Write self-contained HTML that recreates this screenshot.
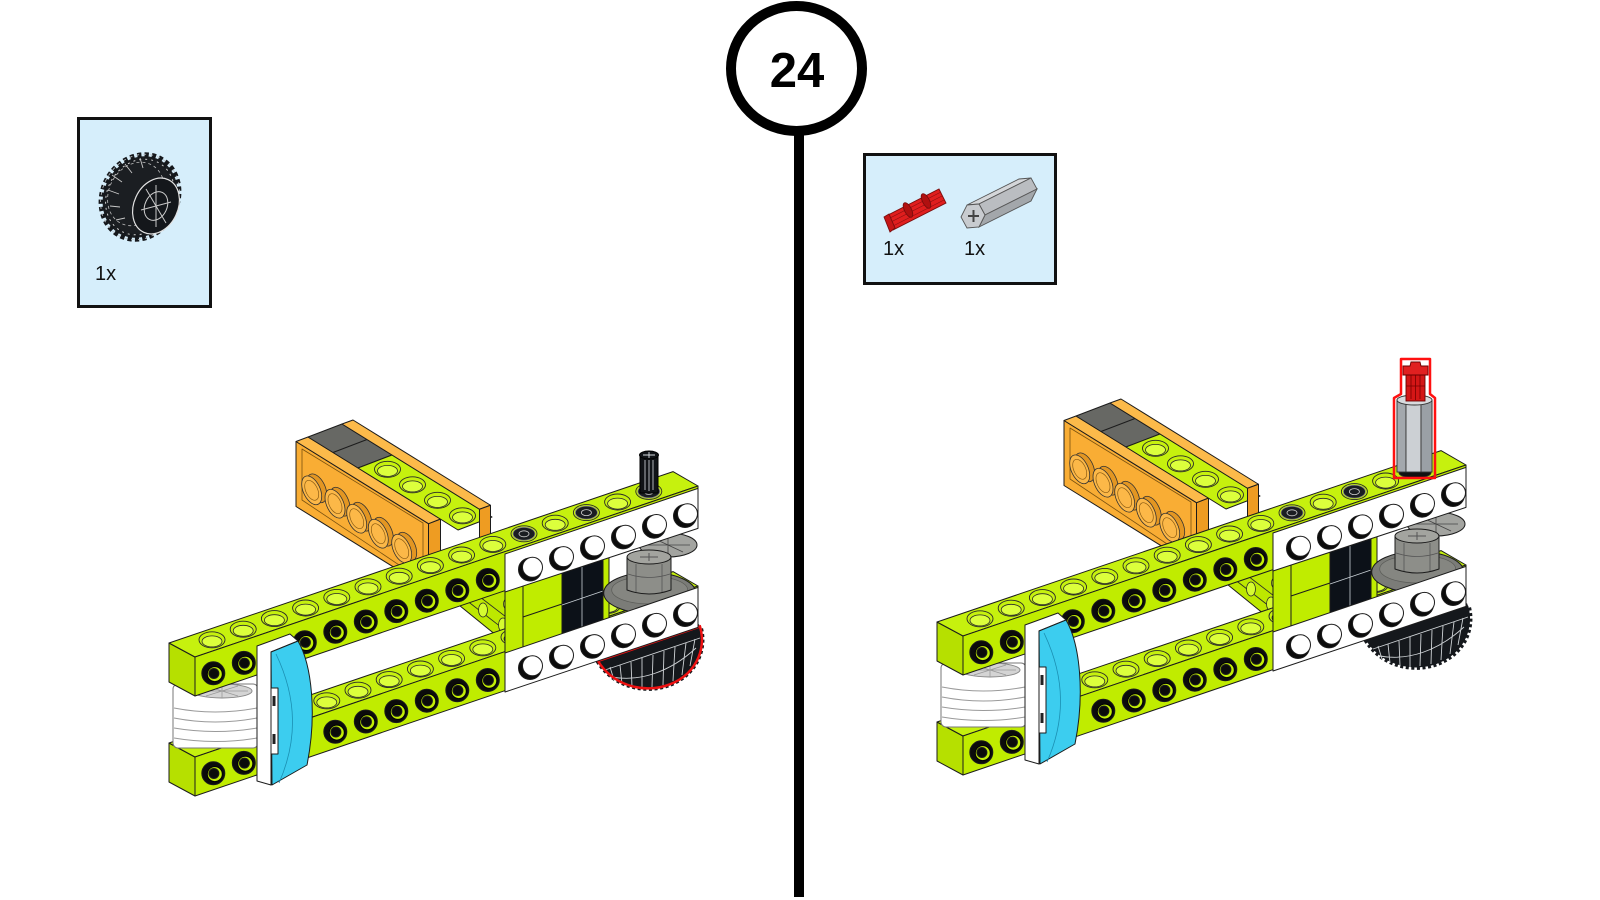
<!DOCTYPE html>
<html>
<head>
<meta charset="utf-8">
<style>
  html,body{margin:0;padding:0;background:#fff;}
  svg{display:block;}
  text{font-family:"Liberation Sans", Arial, sans-serif;}
</style>
</head>
<body>
<svg xmlns="http://www.w3.org/2000/svg" width="1600" height="900" viewBox="0 0 1600 900">
<rect width="1600" height="900" fill="#fff"/>
<defs>
  <g id="fh">
    <circle r="11.5" fill="#0b0b0b"/>
    <circle cx="1.5" cy="0.8" r="7.5" fill="#c2ee06" stroke="#000" stroke-width="1"/>
    <circle cx="0.6" cy="0.2" r="5" fill="#0b0b0b"/>
  </g>
  <g id="wh">
    <circle r="11.5" fill="#0b0b0b"/>
    <circle cx="2.5" cy="-2.2" r="10" fill="#fff"/>
  </g>
  <g id="rg">
    <ellipse rx="13" ry="8" fill="#c6f10e" stroke="#2a2a2a" stroke-width="0.9"/>
    <ellipse cy="1.6" rx="10" ry="5.5" fill="#dcff3c" stroke="#2a2a2a" stroke-width="0.8"/>
  </g>
  <g id="rgd">
    <ellipse rx="13" ry="8" fill="#c6f10e" stroke="#2a2a2a" stroke-width="0.9"/>
    <ellipse rx="11" ry="6.5" fill="#1a1d22" stroke="#888" stroke-width="0.8"/>
    <ellipse rx="5" ry="3" fill="none" stroke="#ccc" stroke-width="0.8"/>
  </g>
  <g id="stud">
    <circle r="1" transform="matrix(10,6.2,0,13,0,0)" fill="#e39622" stroke="#333" stroke-width="0.8" vector-effect="non-scaling-stroke"/>
    <circle r="1" transform="matrix(10,6.2,0,13,-5,2)" fill="#fcb848" stroke="#333" stroke-width="0.8" vector-effect="non-scaling-stroke"/>
    <circle r="1" transform="matrix(7,4.3,0,9,-5,2)" fill="none" stroke="#8a5a12" stroke-width="0.7" vector-effect="non-scaling-stroke"/>
  </g>

  <g id="gear">
    <path d="M598,661 L700,626.5 C707,650 695,677 665,686 C640,693 612,684 598,661 Z" fill="#15181c" stroke="#15181c" stroke-width="5" stroke-dasharray="3 2.5"/>
    <path d="M598,661 L700,626.5 C707,650 695,677 665,686 C640,693 612,684 598,661 Z" fill="#15181c"/>
    <path d="M610,667 L614,680 M620,665 L622,684 M631,662 L632,687 M642,658 L642,688 M653,655 L652,687 M664,651 L663,685 M675,647 L673,681 M686,643 L682,675 M695,639 L690,666 M605,670 L700,638 M612,677 C640,682 670,672 696,648" fill="none" stroke="#cfd3d6" stroke-width="0.9"/>
  </g>

  <g id="asm" stroke="#1c1c1c" stroke-width="1" stroke-linejoin="round">
    <!-- orange composite -->
    <polygon points="296,441.5 428.5,523.7 428.5,588.7 296,506.5" fill="#f9ad34"/>
    <polygon points="302,449 423,523 423,581 302,500" fill="none" stroke="#7a5210" stroke-width="0.8"/>
    <use href="#stud" x="316.7" y="488.3"/>
    <use href="#stud" x="340" y="501.7"/>
    <use href="#stud" x="361.7" y="516.7"/>
    <use href="#stud" x="383.3" y="531.7"/>
    <use href="#stud" x="406.7" y="546.7"/>
    <polygon points="428.5,523.7 440.5,519 440.5,584 428.5,588.7" fill="#ee9c22"/>
    <polygon points="296,441.5 308,437 440.5,519 428.5,523.7" fill="#fcba4a"/>
    <polygon points="308,437 342,424 392,455 358,468" fill="#676864"/>
    <line x1="333" y1="452.5" x2="367" y2="439.5"/>
    <polygon points="358,468 392,455 492,517 458,530" fill="#c6f10e"/>
    <use href="#rg" x="387.5" y="469.3"/>
    <use href="#rg" x="412.5" y="484.8"/>
    <use href="#rg" x="437.5" y="500.3"/>
    <use href="#rg" x="462.5" y="515.8"/>
    <polygon points="342,424 353,420 490.5,505.25 479.5,509.25" fill="#fcba4a"/>
    <polygon points="479.5,509.25 490.5,505.25 490.5,548 479.5,552" fill="#ee9c22"/>

    <!-- lime perpendicular beam between long beams -->
    <polygon points="449,597 523,583 523,657" fill="#bde800"/>
    <path d="M466,600 L523,644 M480,597 L523,630" fill="none" stroke="#2a2a2a" stroke-width="0.8"/>
    <ellipse cx="483" cy="610" rx="4.5" ry="7" fill="#d6fb30" stroke="#2a2a2a" stroke-width="0.8"/>
    <ellipse cx="503" cy="625" rx="4.5" ry="7" fill="#d6fb30" stroke="#2a2a2a" stroke-width="0.8"/>
    <ellipse cx="508" cy="604" rx="4.5" ry="6" fill="#d6fb30" stroke="#2a2a2a" stroke-width="0.8"/>

    <!-- lower long lime beam -->
    <polygon points="169,743 195,757 195,796 169,782" fill="#b6e000"/>
    <polygon points="169,743 195,757 698,586 673,571.6" fill="#c6f10e"/>
    <polygon points="195,757 698,586 698,625 195,796" fill="#c0ec00"/>
    <use href="#rg" x="295.6" y="711.4"/>
    <use href="#rg" x="326.8" y="700.8"/>
    <use href="#rg" x="358" y="690.2"/>
    <use href="#rg" x="389.2" y="679.6"/>
    <use href="#rg" x="420.4" y="669"/>
    <use href="#rg" x="451.6" y="658.4"/>
    <use href="#rg" x="482.8" y="647.8"/>
    <use href="#rg" x="514" y="637.2"/>
    <use href="#rg" x="576.4" y="616"/>
    <use href="#rg" x="607.6" y="605.4"/>
    <use href="#fh" x="213.3" y="773.3"/>
    <use href="#fh" x="243.8" y="762.9"/>
    <use href="#fh" x="335.3" y="731.8"/>
    <use href="#fh" x="365.8" y="721.5"/>
    <use href="#fh" x="396.3" y="711.1"/>
    <use href="#fh" x="426.8" y="700.7"/>
    <use href="#fh" x="457.3" y="690.3"/>
    <use href="#fh" x="487.8" y="680"/>

    <!-- white wheel at left -->
    <rect x="173" y="684" width="85" height="64" rx="5" fill="#fff" stroke="#777"/>
    <ellipse cx="222" cy="691" rx="30" ry="7" fill="#d4d4d4" stroke="#888"/>
    <path d="M196,691 L248,691 M222,684 L222,698 M206,686 L238,696 M206,696 L238,686" fill="none" stroke="#9a9a9a" stroke-width="0.8"/>
    <path d="M174,708 Q215,716 257,708 M174,718 Q215,726 257,718 M174,728 Q215,735 257,728 M174,738 Q215,745 257,738" fill="none" stroke="#9a9a9a" stroke-width="1"/>

    <!-- upper long lime beam -->
    <polygon points="169,643 195,657 195,696 169,682" fill="#b6e000"/>
    <polygon points="169,643 195,657 698,486 673,471.6" fill="#c6f10e"/>
    <polygon points="195,657 698,486 698,525 195,696" fill="#c0ec00"/>
    <use href="#rg" x="212" y="639.8"/>
    <use href="#rg" x="243.2" y="629.2"/>
    <use href="#rg" x="274.4" y="618.6"/>
    <use href="#rg" x="305.6" y="608"/>
    <use href="#rg" x="336.8" y="597.4"/>
    <use href="#rg" x="368" y="586.8"/>
    <use href="#rg" x="399.2" y="576.2"/>
    <use href="#rg" x="430.4" y="565.6"/>
    <use href="#rg" x="461.6" y="555"/>
    <use href="#rg" x="492.8" y="544.4"/>
    <use href="#rgd" x="524" y="533.8"/>
    <use href="#rg" x="555.2" y="523.2"/>
    <use href="#rgd" x="586.4" y="512.6"/>
    <use href="#rg" x="617.6" y="502"/>
    <use href="#rgd" x="648.8" y="491.4"/>
    <use href="#fh" x="213.3" y="673.3"/>
    <use href="#fh" x="243.8" y="662.9"/>
    <use href="#fh" x="274.3" y="652.6"/>
    <use href="#fh" x="304.8" y="642.2"/>
    <use href="#fh" x="335.3" y="631.8"/>
    <use href="#fh" x="365.8" y="621.5"/>
    <use href="#fh" x="396.3" y="611.1"/>
    <use href="#fh" x="426.8" y="600.7"/>
    <use href="#fh" x="457.3" y="590.3"/>
    <use href="#fh" x="487.8" y="580"/>

    <!-- between white beams -->
    <polygon points="505,588 603,555 603,624 505,656" fill="#c0ec00"/>
    <line x1="523" y1="586" x2="523" y2="647"/>
    <line x1="523" y1="617" x2="562" y2="604"/>
    <polygon points="562,572 603,558 603,625 562,639" fill="#0c1118"/>
    <path d="M582,566 L582,632 M562,605 L603,591" fill="none" stroke="#c9d0d6" stroke-width="0.8"/>
    <polygon points="603,558 609,556 609,622 603,624" fill="#c0ec00"/>
    <ellipse cx="668" cy="545" rx="29" ry="12" fill="#a3a4a0"/>
    <path d="M646,545 L690,545 M668,534 L668,556 M653,538 L683,552" fill="none" stroke="#444" stroke-width="0.8"/>
    <ellipse cx="649.7" cy="593" rx="46" ry="20.5" fill="#7b7c78"/>
    <ellipse cx="649.7" cy="590" rx="38" ry="14" fill="#858681" stroke="#5a5b57" stroke-width="0.7"/>
    <path d="M627,557 L627,590 Q649,598 671,590 L671,557 Z" fill="#8d8e89"/>
    <ellipse cx="649" cy="557" rx="22" ry="7" fill="#a3a49f"/>
    <path d="M636,564 L636,592 M662,564 L662,592 M628,574 Q649,581 670,574" fill="none" stroke="#555" stroke-width="0.8"/>
    <path d="M640,557 L658,557 M649,553 L649,561" fill="none" stroke="#555" stroke-width="1"/>

    <!-- upper white beam -->
    <polygon points="505,554 698,488.4 698,528.4 505,592" fill="#fff"/>
    <use href="#wh" x="530" y="569.5"/>
    <use href="#wh" x="561" y="558.8"/>
    <use href="#wh" x="592" y="548.1"/>
    <use href="#wh" x="623" y="537.4"/>
    <use href="#wh" x="654" y="526.7"/>
    <use href="#wh" x="685" y="516"/>

    <!-- lower white beam -->
    <polygon points="505,653 698,587.4 698,627.4 505,692" fill="#fff"/>
    <use href="#wh" x="530" y="668"/>
    <use href="#wh" x="561" y="657.4"/>
    <use href="#wh" x="592" y="646.8"/>
    <use href="#wh" x="623" y="636.2"/>
    <use href="#wh" x="654" y="625.6"/>
    <use href="#wh" x="685" y="615"/>

    <!-- blue curved panel with white back -->
    <path d="M257,646 L290,634 L298,641 L271,652 L271,785 L257,781 Z" fill="#fff"/>
    <path d="M271,652 L298,641 C312,665 317,715 307,765 L272,785 Z" fill="#3ccdef"/>
    <path d="M276,654 C298,700 297,742 279,783" fill="none" stroke="#1b8fb2" stroke-width="0.8"/>
    <rect x="271" y="688" width="7" height="66" fill="#fff"/>
    <rect x="272.5" y="696" width="3" height="10" fill="#222" stroke="none"/>
    <rect x="272.5" y="734" width="3" height="10" fill="#222" stroke="none"/>
  </g>
</defs>

<use href="#gear"/>
<path d="M598,661 L700,626.5 C707,650 695,677 665,686 C640,693 612,684 598,661 Z" fill="none" stroke="#ee1111" stroke-width="2.5"/>
<use href="#gear" transform="translate(768,-21)"/>

<use href="#asm"/>
<use href="#asm" transform="translate(768,-21)"/>

<!-- left: black axle -->
<g stroke="#000" stroke-width="1">
  <rect x="640" y="455" width="18" height="38" fill="#101317"/>
  <path d="M645,460 L645,490 M649,460 L649,491 M653,460 L653,490" stroke="#d8dde2" stroke-width="0.8"/>
  <ellipse cx="649" cy="455" rx="9.5" ry="4" fill="#101317"/>
  <path d="M643,455 L655,455 M649,452 L649,458" stroke="#d8dde2" stroke-width="0.9"/>
</g>

<!-- right: gray hex connector + red axle -->
<g stroke="#333" stroke-width="0.9">
  <ellipse cx="1415" cy="473" rx="16" ry="5" fill="#111"/>
  <rect x="1397" y="400" width="35" height="72" fill="#b8bcc1"/>
  <rect x="1397" y="400" width="9" height="72" fill="#a3a8ad"/>
  <rect x="1406" y="400" width="15" height="72" fill="#ccd0d4"/>
  <rect x="1421" y="400" width="11" height="72" fill="#9aa0a6"/>
  <ellipse cx="1414.5" cy="400" rx="17.5" ry="5" fill="#d8dbde"/>
  <rect x="1406" y="372" width="19" height="29" fill="#d41616" stroke="#6a0000"/>
  <path d="M1411,374 L1411,399 M1415.5,373 L1415.5,400 M1420,374 L1420,399 M1406,386 L1425,386" stroke="#7a0000" stroke-width="0.8" fill="none"/>
  <path d="M1403,366 L1410,366 L1411,362 L1420,362 L1421,366 L1428,366 L1428,375 L1403,375 Z" fill="#e02020" stroke="#6a0000"/>
</g>
<path d="M1401,359 L1430,359 L1430,394 L1435,398 L1435,478 L1394,478 L1394,398 L1401,394 Z" fill="none" stroke="#ff1010" stroke-width="2.5" stroke-linejoin="round"/>

<!-- left parts box -->
<rect x="78.5" y="118.5" width="132" height="188" fill="#d6eefb" stroke="#111" stroke-width="3"/>
<g>
  <ellipse cx="140" cy="197" rx="36" ry="42" transform="rotate(28 140 197)" fill="#1b1e22" stroke="#15181c" stroke-width="8" stroke-dasharray="4 3"/>
  <ellipse cx="140" cy="197" rx="38" ry="44" transform="rotate(28 140 197)" fill="none" stroke="#bfc3c7" stroke-width="0.8" stroke-dasharray="3 4"/>
  <ellipse cx="140" cy="197" rx="33" ry="39" transform="rotate(28 140 197)" fill="none" stroke="#cfcfcf" stroke-width="1" stroke-dasharray="2 4"/>
  <ellipse cx="136" cy="194" rx="27" ry="33" transform="rotate(28 136 194)" fill="none" stroke="#bdbdbd" stroke-width="0.8" stroke-dasharray="3 3"/>
  <path d="M112,175 L122,182 M108,190 L119,194 M110,206 L120,207 M116,220 L125,218 M125,164 L132,173 M140,158 L143,168" fill="none" stroke="#c9c9c9" stroke-width="0.9"/>
  <ellipse cx="156" cy="206" rx="22" ry="29" transform="rotate(25 156 206)" fill="#14171b" stroke="#e2e2e2" stroke-width="1.2"/>
  <ellipse cx="156" cy="206" rx="11" ry="15" transform="rotate(25 156 206)" fill="#14171b" stroke="#d0d0d0" stroke-width="1"/>
  <path d="M146,189 L166,223 M141,210 L171,202 M156,185 L156,227" fill="none" stroke="#c8c8c8" stroke-width="1"/>
</g>
<text x="95" y="280" font-size="20" fill="#111">1x</text>

<!-- right parts box -->
<rect x="864.5" y="154.5" width="191" height="129" fill="#d6eefb" stroke="#111" stroke-width="3"/>
<g stroke="#7a0d0d" stroke-width="0.9">
  <polygon points="886,216 939,189 946,203 893,230" fill="#e01e1e"/>
  <path d="M889,223 L942,196 M888,219 L941,192 M891,227 L944,200" fill="none" stroke="#8b1111" stroke-width="0.7"/>
  <ellipse cx="908" cy="210" rx="3.5" ry="8" transform="rotate(-27 908 210)" fill="#b01010"/>
  <ellipse cx="926" cy="201" rx="3.5" ry="8" transform="rotate(-27 926 201)" fill="#b01010"/>
  <path d="M884,217 L889,214 L895,228 L890,232 Z" fill="#c51515"/>
</g>
<g stroke="#555" stroke-width="0.9">
  <polygon points="967,205 979,204 1031,178 1019,179" fill="#d4d6d9"/>
  <polygon points="979,204 985,215 1037,189 1031,178" fill="#babdc1"/>
  <polygon points="985,215 979,227 1031,201 1037,189" fill="#a3a7ab"/>
  <polygon points="967,205 979,204 985,215 979,227 967,228 961,217" fill="#c8cbcf"/>
  <path d="M968,216 L979,216 M973.5,210 L973.5,222" stroke="#444" stroke-width="2"/>
</g>
<text x="883" y="255" font-size="20" fill="#111">1x</text>
<text x="964" y="255" font-size="20" fill="#111">1x</text>

<!-- step circle and divider -->
<rect x="794" y="132" width="10" height="765" fill="#000"/>
<ellipse cx="796.5" cy="68.5" rx="65.5" ry="62.5" fill="#fff" stroke="#000" stroke-width="10"/>
<text x="797" y="87" font-size="49" font-weight="bold" text-anchor="middle" fill="#000">24</text>
</svg>
</body>
</html>
